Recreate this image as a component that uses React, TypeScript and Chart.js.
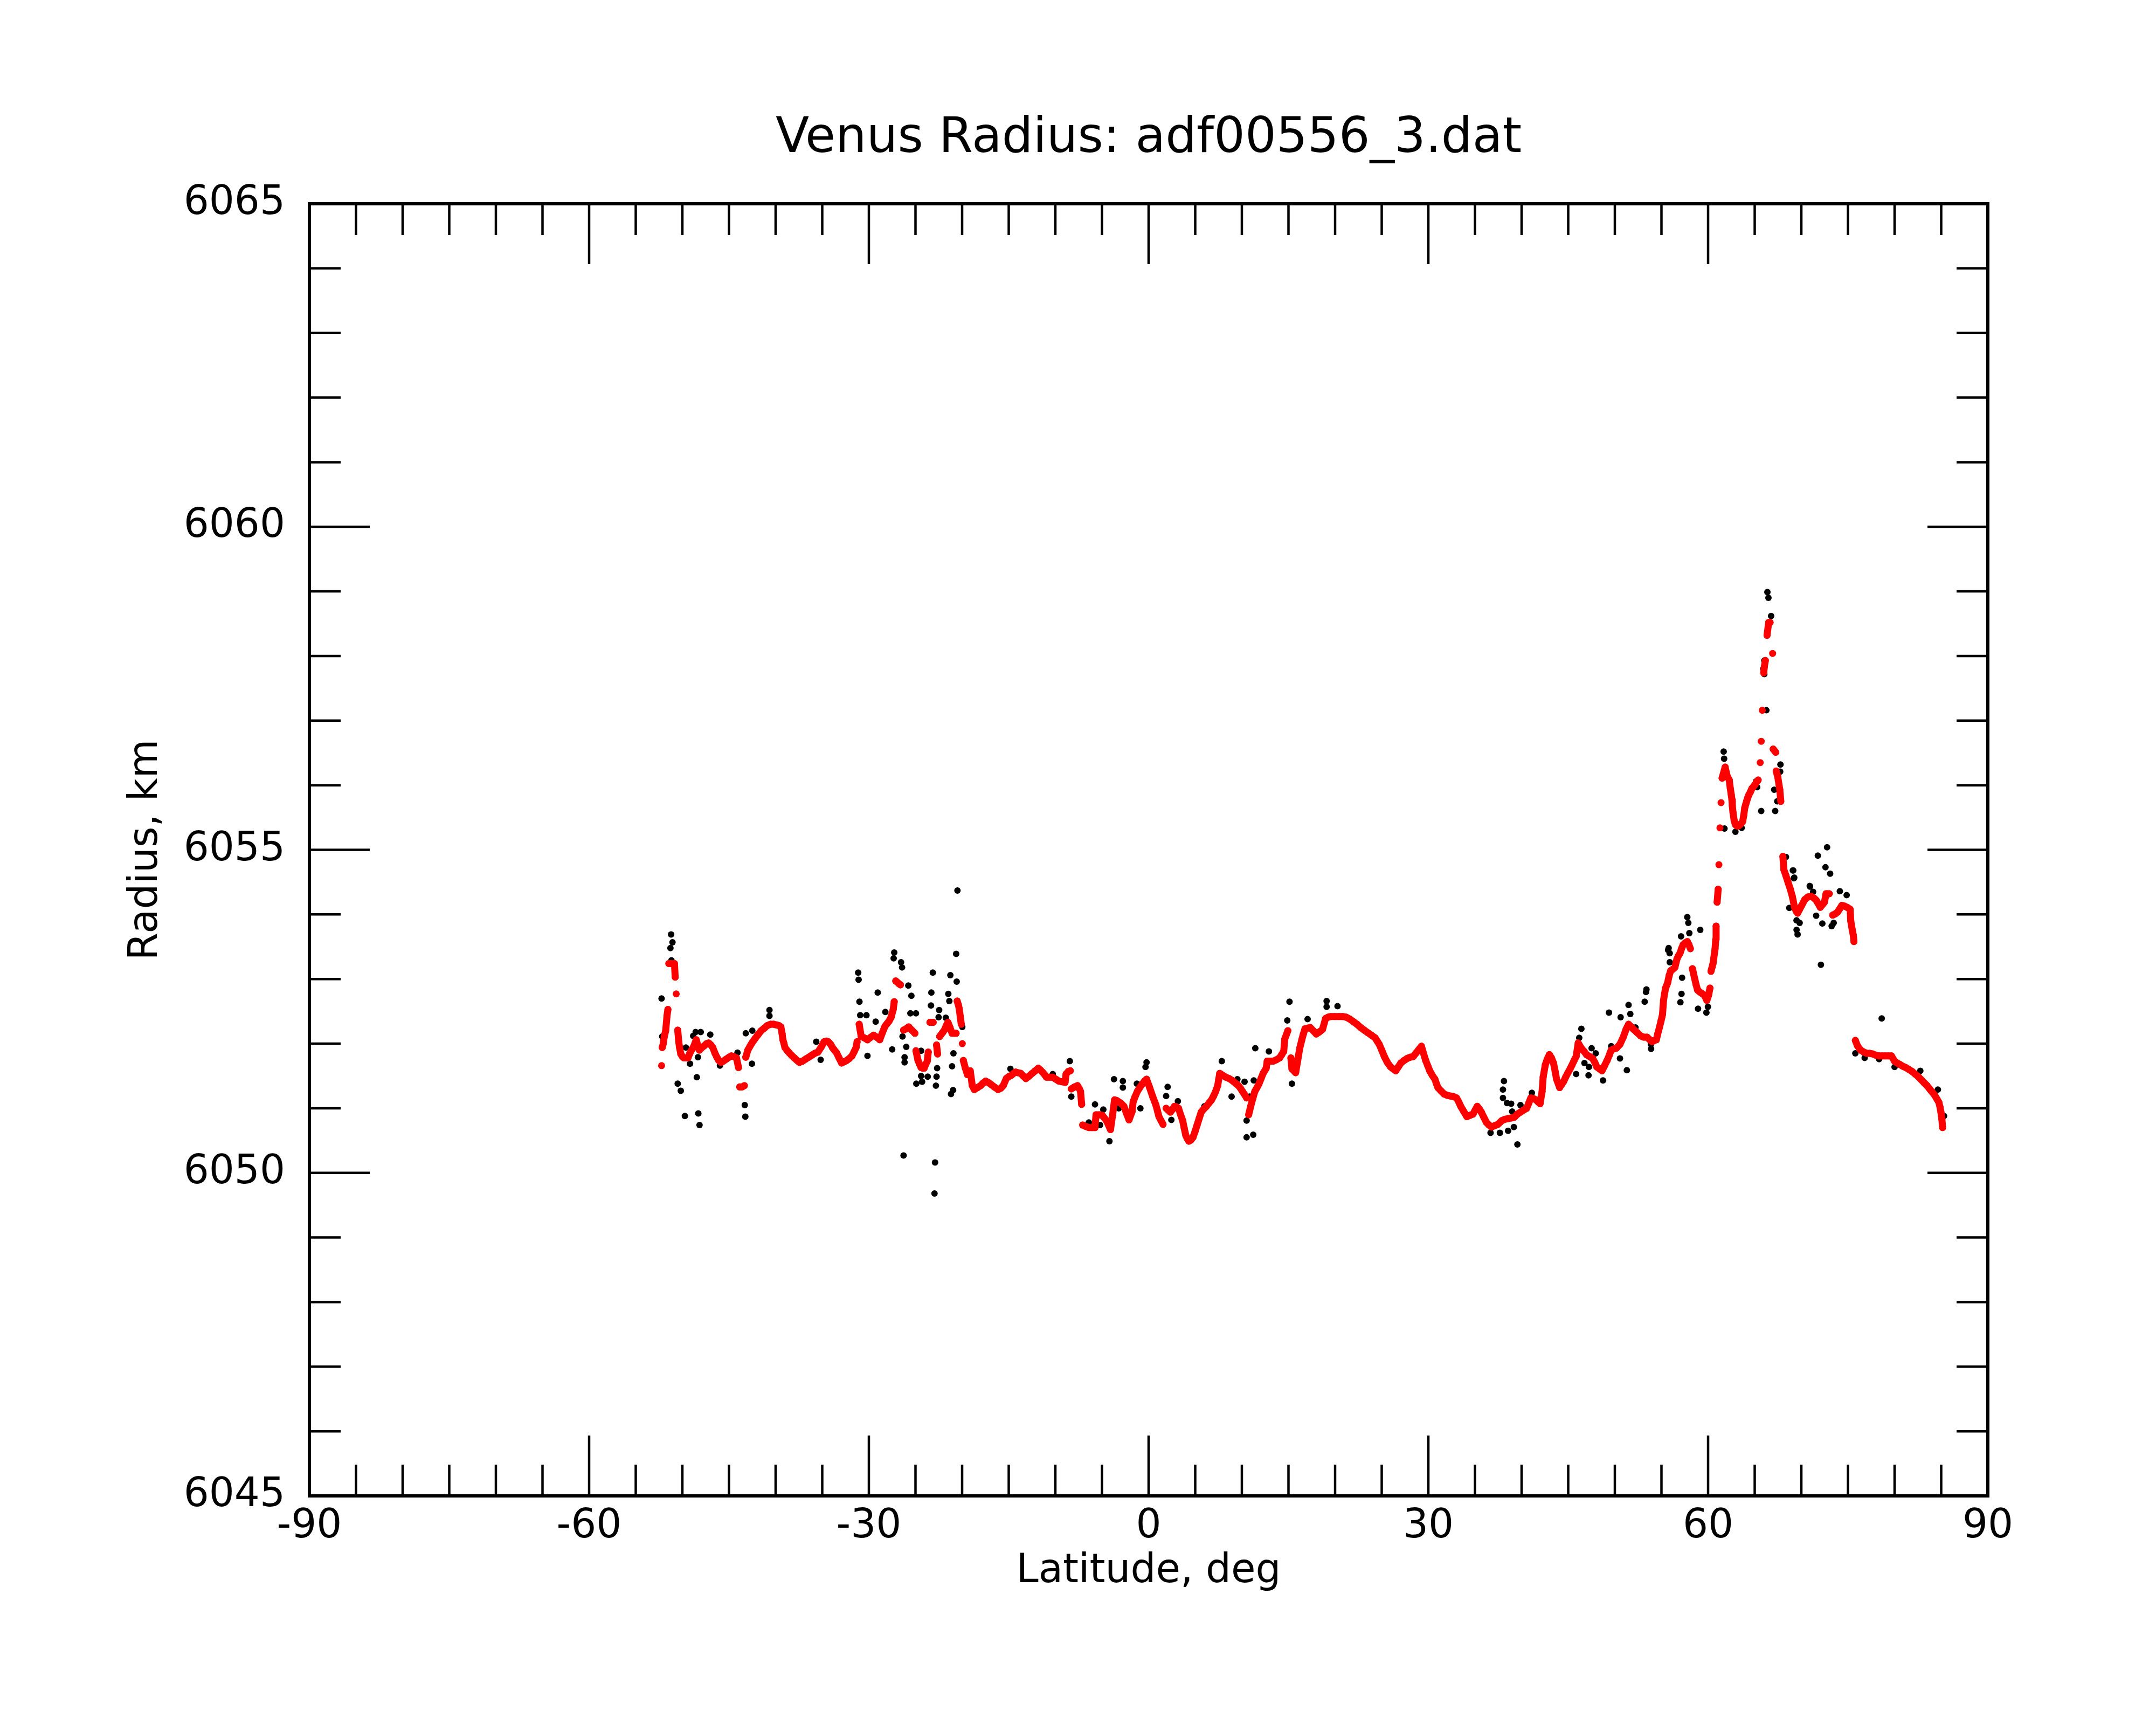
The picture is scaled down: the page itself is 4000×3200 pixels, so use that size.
import { useEffect, useRef } from "react"
import { Chart, registerables, type Plugin } from "chart.js"

Chart.register(...registerables)

const chartTitle = "Venus Radius: adf00556_3.dat"
const xTitle = "Latitude, deg"
const yTitle = "Radius, km"

const latRange = [-90, 90]
const radiusRange = [6045, 6065]

// smoothed profile (red): [latitude deg, radius km]
const smoothed: [number, number][] = [
  [-52.23, 6051.66], [-52.16, 6051.94], [-52.05, 6052.0], [-51.94, 6052.11], [-51.79, 6052.2],
  [-51.65, 6052.43], [-51.55, 6052.53], [-51.45, 6053.24], [-51.25, 6053.24], [-51.05, 6053.24],
  [-50.85, 6053.24], [-50.77, 6053.03], [-50.66, 6052.77], [-50.5, 6052.21], [-50.39, 6052.03],
  [-50.3, 6051.94], [-50.17, 6051.84], [-50.0, 6051.8], [-49.84, 6051.78], [-49.6, 6051.78],
  [-49.4, 6051.78], [-49.2, 6051.85], [-49.06, 6051.89], [-48.8, 6051.95], [-48.51, 6052.06],
  [-48.35, 6051.97], [-48.18, 6051.9], [-47.9, 6051.94], [-47.63, 6051.97], [-47.4, 6052.0],
  [-47.18, 6052.01], [-46.95, 6051.98], [-46.74, 6051.94], [-46.5, 6051.85], [-46.3, 6051.79],
  [-46.1, 6051.74], [-45.86, 6051.71], [-45.6, 6051.73], [-45.3, 6051.76], [-45.0, 6051.79],
  [-44.75, 6051.81], [-44.5, 6051.8], [-44.2, 6051.78], [-43.98, 6051.63], [-43.85, 6051.33],
  [-43.6, 6051.33], [-43.35, 6051.35], [-43.2, 6051.79], [-42.98, 6051.9], [-42.75, 6051.96],
  [-42.54, 6052.01], [-42.2, 6052.08], [-41.88, 6052.14], [-41.55, 6052.2], [-41.21, 6052.24],
  [-40.9, 6052.28], [-40.55, 6052.3], [-40.2, 6052.3], [-39.89, 6052.29], [-39.65, 6052.28],
  [-39.44, 6052.26], [-39.3, 6052.15], [-39.22, 6052.06], [-39.1, 6052.0], [-39.0, 6051.94],
  [-38.8, 6051.9], [-38.56, 6051.86], [-38.3, 6051.82], [-38.0, 6051.78], [-37.7, 6051.74],
  [-37.45, 6051.71], [-37.1, 6051.73], [-36.79, 6051.76], [-36.45, 6051.79], [-36.12, 6051.82],
  [-35.8, 6051.85], [-35.46, 6051.87], [-35.1, 6051.95], [-34.8, 6052.03], [-34.55, 6052.04],
  [-34.36, 6052.03], [-34.1, 6051.99], [-33.91, 6051.94], [-33.7, 6051.9], [-33.47, 6051.86],
  [-33.2, 6051.78], [-32.92, 6051.7], [-32.65, 6051.72], [-32.37, 6051.74], [-32.1, 6051.77],
  [-31.81, 6051.81], [-31.6, 6051.87], [-31.37, 6051.94], [-31.26, 6052.03], [-31.04, 6052.3],
  [-30.82, 6052.11], [-30.5, 6052.09], [-30.15, 6052.06], [-29.8, 6052.1], [-29.49, 6052.13],
  [-29.15, 6052.1], [-28.83, 6052.06], [-28.55, 6052.17], [-28.27, 6052.27], [-28.05, 6052.31],
  [-27.83, 6052.35], [-27.61, 6052.41], [-27.39, 6052.53], [-27.28, 6052.65], [-27.12, 6052.97],
  [-26.95, 6052.95], [-26.8, 6052.93], [-26.61, 6052.91], [-26.28, 6052.21], [-26.0, 6052.23],
  [-25.73, 6052.26], [-25.4, 6052.21], [-25.06, 6052.16], [-24.95, 6051.89], [-24.73, 6051.74],
  [-24.55, 6051.68], [-24.4, 6051.63], [-24.2, 6051.62], [-24.07, 6051.62], [-23.9, 6051.68],
  [-23.74, 6051.73], [-23.63, 6051.87], [-23.45, 6052.33], [-23.3, 6052.33], [-23.1, 6052.33],
  [-22.74, 6051.98], [-22.63, 6051.84], [-22.41, 6052.11], [-22.1, 6052.17], [-21.86, 6052.22],
  [-21.7, 6052.28], [-21.52, 6052.33], [-21.3, 6052.25], [-21.08, 6052.16], [-20.85, 6052.16],
  [-20.64, 6052.16], [-20.53, 6052.66], [-20.4, 6052.6], [-20.31, 6052.54], [-20.2, 6052.42],
  [-20.09, 6052.3], [-19.98, 6052.0], [-19.87, 6051.74], [-19.65, 6051.62], [-19.43, 6051.52],
  [-19.13, 6051.58], [-18.91, 6051.35], [-18.69, 6051.29], [-18.35, 6051.32], [-18.02, 6051.35],
  [-17.75, 6051.39], [-17.47, 6051.42], [-17.2, 6051.4], [-16.92, 6051.37], [-16.55, 6051.33],
  [-16.14, 6051.29], [-15.85, 6051.31], [-15.59, 6051.35], [-15.26, 6051.46], [-15.0, 6051.49],
  [-14.71, 6051.51], [-14.48, 6051.54], [-14.26, 6051.56], [-14.0, 6051.55], [-13.71, 6051.54],
  [-13.45, 6051.5], [-13.16, 6051.46], [-12.8, 6051.5], [-12.49, 6051.54], [-12.15, 6051.58],
  [-11.83, 6051.62], [-11.6, 6051.59], [-11.39, 6051.56], [-11.15, 6051.52], [-10.95, 6051.48],
  [-10.6, 6051.48], [-10.28, 6051.48], [-9.95, 6051.45], [-9.62, 6051.42], [-9.3, 6051.41],
  [-8.96, 6051.4], [-8.85, 6051.53], [-8.6, 6051.57], [-8.4, 6051.58], [-8.29, 6051.3],
  [-7.95, 6051.33], [-7.63, 6051.35], [-7.45, 6051.31], [-7.3, 6051.26], [-7.18, 6051.06],
  [-7.07, 6050.74], [-6.75, 6050.72], [-6.41, 6050.7], [-6.08, 6050.7], [-5.75, 6050.7],
  [-5.64, 6050.9], [-5.3, 6050.9], [-4.97, 6050.89], [-4.75, 6050.85], [-4.53, 6050.81],
  [-4.3, 6050.74], [-4.09, 6050.67], [-3.98, 6050.78], [-3.87, 6050.89], [-3.76, 6051.01],
  [-3.65, 6051.13], [-3.42, 6051.12], [-3.2, 6051.1], [-2.92, 6051.07], [-2.65, 6051.03],
  [-2.37, 6050.92], [-2.1, 6050.82], [-1.77, 6050.95], [-1.66, 6051.1], [-1.45, 6051.18],
  [-1.21, 6051.26], [-0.95, 6051.32], [-0.66, 6051.38], [-0.44, 6051.42], [-0.22, 6051.45],
  [0.11, 6051.32], [0.44, 6051.18], [0.78, 6051.05], [0.95, 6050.96], [1.11, 6050.87],
  [1.33, 6050.81], [1.55, 6050.75], [1.88, 6051.0], [2.1, 6050.97], [2.33, 6050.94],
  [2.55, 6050.98], [2.77, 6051.03], [3.0, 6051.02], [3.21, 6051.0], [3.43, 6050.9],
  [3.65, 6050.81], [3.82, 6050.69], [3.99, 6050.58], [4.15, 6050.53], [4.32, 6050.49],
  [4.55, 6050.51], [4.76, 6050.55], [4.98, 6050.64], [5.2, 6050.74], [5.42, 6050.84],
  [5.64, 6050.94], [5.92, 6050.99], [6.2, 6051.03], [6.47, 6051.08], [6.75, 6051.13],
  [6.97, 6051.19], [7.19, 6051.26], [7.41, 6051.35], [7.52, 6051.45], [7.63, 6051.54],
  [7.95, 6051.51], [8.3, 6051.48], [8.63, 6051.46], [8.96, 6051.43], [9.3, 6051.39],
  [9.63, 6051.35], [9.85, 6051.31], [10.07, 6051.26], [10.3, 6051.21], [10.51, 6051.16],
  [10.73, 6050.9], [10.95, 6051.03], [11.17, 6051.15], [11.39, 6051.26], [11.62, 6051.32],
  [11.84, 6051.38], [12.06, 6051.46], [12.28, 6051.54], [12.61, 6051.62], [12.72, 6051.73],
  [13.05, 6051.73], [13.38, 6051.73], [13.7, 6051.75], [14.05, 6051.78], [14.27, 6051.83],
  [14.49, 6051.88], [14.6, 6052.07], [14.93, 6052.2], [15.26, 6051.78], [15.37, 6051.61],
  [15.77, 6051.55], [15.99, 6051.74], [16.21, 6051.93], [16.43, 6052.06], [16.6, 6052.15],
  [16.77, 6052.23], [17.05, 6052.24], [17.32, 6052.25], [17.65, 6052.2], [17.98, 6052.15],
  [18.3, 6052.18], [18.65, 6052.22], [18.98, 6052.39], [19.25, 6052.41], [19.53, 6052.42],
  [19.95, 6052.42], [20.42, 6052.42], [20.8, 6052.42], [21.19, 6052.41], [21.58, 6052.38],
  [21.96, 6052.34], [22.35, 6052.3], [22.74, 6052.25], [23.12, 6052.21], [23.51, 6052.17],
  [23.9, 6052.13], [24.29, 6052.09], [24.51, 6052.04], [24.73, 6051.99], [25.0, 6051.9],
  [25.28, 6051.8], [25.6, 6051.71], [25.95, 6051.64], [26.22, 6051.61], [26.5, 6051.58],
  [26.78, 6051.64], [27.05, 6051.7], [27.4, 6051.74], [27.72, 6051.77], [28.05, 6051.79],
  [28.38, 6051.8], [28.65, 6051.85], [28.93, 6051.9], [29.1, 6051.93], [29.26, 6051.96],
  [29.48, 6051.85], [29.71, 6051.74], [29.93, 6051.66], [30.15, 6051.58], [30.42, 6051.51],
  [30.7, 6051.45], [30.87, 6051.38], [31.03, 6051.32], [31.35, 6051.27], [31.7, 6051.22],
  [32.03, 6051.2], [32.36, 6051.19], [32.7, 6051.18], [33.02, 6051.16], [33.25, 6051.1],
  [33.47, 6051.03], [33.8, 6050.95], [34.13, 6050.87], [34.46, 6050.89], [34.79, 6050.91],
  [35.02, 6050.97], [35.24, 6051.03], [35.46, 6050.99], [35.68, 6050.94], [35.95, 6050.86],
  [36.23, 6050.78], [36.5, 6050.74], [36.78, 6050.71], [37.1, 6050.73], [37.45, 6050.75],
  [37.67, 6050.78], [37.89, 6050.81], [38.22, 6050.83], [38.55, 6050.84], [38.9, 6050.85],
  [39.22, 6050.86], [39.55, 6050.91], [39.88, 6050.94], [40.2, 6050.97], [40.55, 6051.0],
  [40.77, 6051.08], [40.99, 6051.16], [41.27, 6051.15], [41.54, 6051.13], [41.76, 6051.1],
  [41.98, 6051.07], [42.2, 6051.26], [42.31, 6051.48], [42.54, 6051.67], [42.75, 6051.76],
  [42.98, 6051.83], [43.2, 6051.78], [43.42, 6051.7], [43.6, 6051.57], [43.75, 6051.45],
  [44.08, 6051.32], [44.3, 6051.37], [44.53, 6051.42], [44.75, 6051.49], [44.97, 6051.55],
  [45.2, 6051.61], [45.41, 6051.67], [45.63, 6051.74], [45.85, 6051.8], [46.07, 6052.01],
  [46.4, 6051.93], [46.7, 6051.88], [46.96, 6051.83], [47.3, 6051.8], [47.62, 6051.77],
  [47.85, 6051.71], [48.06, 6051.64], [48.35, 6051.61], [48.62, 6051.58], [48.9, 6051.66],
  [49.17, 6051.74], [49.4, 6051.82], [49.61, 6051.9], [49.9, 6051.92], [50.17, 6051.93],
  [50.55, 6051.99], [50.9, 6052.1], [51.2, 6052.22], [51.47, 6052.3], [51.75, 6052.26],
  [52.02, 6052.22], [52.4, 6052.17], [52.76, 6052.12], [53.1, 6052.1], [53.45, 6052.1],
  [53.75, 6052.06], [54.0, 6052.03], [54.24, 6052.05], [54.45, 6052.06], [54.6, 6052.15],
  [54.78, 6052.25], [54.95, 6052.35], [55.11, 6052.45], [55.22, 6052.67], [55.33, 6052.77],
  [55.44, 6052.86], [55.66, 6052.94], [55.82, 6053.05], [55.99, 6053.13], [56.2, 6053.15],
  [56.44, 6053.18], [56.66, 6053.31], [56.82, 6053.36], [56.99, 6053.4], [57.15, 6053.47],
  [57.32, 6053.53], [57.55, 6053.56], [57.77, 6053.58], [57.95, 6053.53], [58.1, 6053.47],
  [58.32, 6053.16], [58.54, 6053.02], [58.7, 6052.92], [58.87, 6052.83], [59.1, 6052.8],
  [59.31, 6052.78], [59.6, 6052.75], [59.87, 6052.67], [60.05, 6052.75], [60.2, 6052.86],
  [60.31, 6053.12], [60.42, 6053.18], [60.53, 6053.24], [60.75, 6053.47], [60.82, 6053.61],
  [60.86, 6053.82], [60.97, 6054.19], [61.08, 6054.39], [61.16, 6054.77], [61.27, 6055.34],
  [61.39, 6055.73], [61.5, 6056.11], [61.83, 6056.28], [62.05, 6056.14], [62.27, 6056.08],
  [62.38, 6055.95], [62.49, 6055.85], [62.56, 6055.77], [62.6, 6055.68], [62.67, 6055.58],
  [62.8, 6055.45], [62.93, 6055.39], [63.1, 6055.37], [63.27, 6055.37], [63.5, 6055.4],
  [63.71, 6055.44], [63.82, 6055.53], [63.93, 6055.65], [64.05, 6055.71], [64.15, 6055.76],
  [64.26, 6055.81], [64.37, 6055.85], [64.55, 6055.9], [64.7, 6055.95], [64.87, 6055.98],
  [65.04, 6056.01], [65.2, 6056.05], [65.37, 6056.08], [65.59, 6056.35], [65.7, 6056.68],
  [65.81, 6057.16], [65.96, 6057.74], [66.03, 6057.83], [66.14, 6057.93], [66.32, 6058.32],
  [66.5, 6058.52], [66.65, 6058.52], [66.92, 6058.04], [66.98, 6056.56], [67.25, 6056.51],
  [67.3, 6056.22], [67.47, 6056.13], [67.69, 6055.93], [67.8, 6055.75], [68.02, 6054.9],
  [68.13, 6054.69], [68.35, 6054.6], [68.57, 6054.5], [68.82, 6054.39], [69.05, 6054.27],
  [69.27, 6054.11], [69.45, 6054.05], [69.6, 6054.02], [69.82, 6054.08], [70.04, 6054.14],
  [70.37, 6054.23], [70.7, 6054.27], [71.04, 6054.28], [71.3, 6054.26], [71.59, 6054.22],
  [71.8, 6054.17], [72.03, 6054.11], [72.25, 6054.15], [72.48, 6054.19], [72.65, 6054.32],
  [72.81, 6054.32], [73.0, 6054.32], [73.36, 6053.99], [73.65, 6054.01], [73.91, 6054.04],
  [74.13, 6054.09], [74.35, 6054.14], [74.6, 6054.13], [74.91, 6054.11], [75.24, 6054.08],
  [75.3, 6053.9], [75.46, 6053.76], [75.57, 6053.68], [75.64, 6053.58], [75.79, 6052.05],
  [76.01, 6051.97], [76.35, 6051.9], [76.7, 6051.87], [77.01, 6051.85], [77.35, 6051.85],
  [77.67, 6051.84], [78.0, 6051.82], [78.34, 6051.81], [78.67, 6051.81], [79.0, 6051.81],
  [79.33, 6051.81], [79.66, 6051.81], [79.99, 6051.73], [80.27, 6051.7], [80.55, 6051.68],
  [80.88, 6051.65], [81.21, 6051.63], [81.54, 6051.6], [81.87, 6051.57], [82.2, 6051.53],
  [82.54, 6051.49], [82.87, 6051.44], [83.2, 6051.39], [83.48, 6051.35], [83.75, 6051.3],
  [84.03, 6051.25], [84.31, 6051.2], [84.55, 6051.14], [84.75, 6051.09], [84.87, 6051.02],
  [84.97, 6050.94], [85.08, 6050.82], [85.15, 6050.7],
]

// raw measurements (black) that stand off the smoothed profile
const raw: [number, number][] = [
  [-52.23, 6052.7], [-52.16, 6052.11], [-51.28, 6053.48], [-51.21, 6053.69], [-51.17, 6053.29],
  [-51.06, 6053.57], [-50.5, 6051.38], [-50.17, 6051.27], [-49.73, 6050.88], [-49.62, 6051.94],
  [-49.18, 6051.69], [-48.84, 6052.12], [-48.58, 6052.18], [-48.45, 6051.48], [-48.33, 6051.79],
  [-48.29, 6050.92], [-48.16, 6050.74], [-48.03, 6052.18], [-47.01, 6052.14], [-45.97, 6051.66],
  [-44.09, 6051.86], [-43.31, 6051.05], [-43.25, 6050.87], [-43.2, 6052.16], [-42.54, 6051.69],
  [-42.5, 6052.2], [-40.66, 6052.52], [-40.66, 6052.43], [-35.64, 6052.03], [-35.17, 6051.75],
  [-31.15, 6053.1], [-31.1, 6052.99], [-31.01, 6052.65], [-30.93, 6052.44], [-30.26, 6052.44],
  [-30.15, 6051.81], [-29.27, 6052.34], [-29.05, 6052.79], [-28.23, 6052.49], [-27.5, 6051.91],
  [-27.34, 6053.32], [-27.28, 6053.41], [-26.55, 6053.26], [-26.44, 6053.18], [-26.39, 6052.11],
  [-26.28, 6050.27], [-26.17, 6051.79], [-26.17, 6051.71], [-25.99, 6051.95], [-25.77, 6052.9],
  [-25.55, 6052.47], [-25.44, 6052.74], [-24.95, 6052.47], [-24.91, 6051.38], [-24.4, 6051.5],
  [-24.4, 6051.89], [-24.29, 6051.41], [-23.69, 6051.49], [-23.34, 6052.59], [-23.3, 6052.79],
  [-23.14, 6053.1], [-22.96, 6049.68], [-22.9, 6050.16], [-22.81, 6051.35], [-22.74, 6051.49],
  [-22.68, 6051.62], [-22.52, 6052.41], [-22.46, 6052.52], [-21.75, 6052.4], [-21.48, 6052.77],
  [-21.37, 6052.66], [-21.26, 6053.06], [-21.19, 6051.22], [-21.08, 6051.65], [-20.97, 6051.28],
  [-20.93, 6051.85], [-20.5, 6054.37], [-20.64, 6053.39], [-20.58, 6052.96], [-19.98, 6052.26],
  [-14.82, 6051.61], [-10.28, 6051.53], [-8.45, 6051.73], [-8.29, 6051.18], [-6.41, 6050.78],
  [-5.75, 6051.06], [-5.2, 6050.74], [-4.86, 6050.98], [-4.2, 6050.49], [-3.71, 6051.45],
  [-3.2, 6051.0], [-2.76, 6051.42], [-2.76, 6051.32], [-1.26, 6051.38], [-0.88, 6051.0],
  [-0.33, 6051.64], [-0.22, 6051.71], [1.88, 6051.19], [2.04, 6051.33], [2.44, 6050.82],
  [3.14, 6051.11], [5.98, 6051.03], [7.85, 6051.73], [8.9, 6051.18], [9.52, 6051.45],
  [10.29, 6051.41], [10.51, 6050.81], [10.51, 6050.55], [10.84, 6051.18], [11.22, 6050.59],
  [11.28, 6051.43], [11.44, 6051.93], [12.9, 6051.88], [14.87, 6052.36], [15.11, 6052.65],
  [15.37, 6051.38], [17.05, 6052.38], [19.09, 6052.66], [19.09, 6052.57], [20.26, 6052.58],
  [36.67, 6050.62], [37.67, 6050.62], [38.0, 6051.29], [38.0, 6051.16], [38.11, 6051.42],
  [38.44, 6051.08], [38.55, 6050.65], [38.88, 6051.07], [38.99, 6050.95], [39.17, 6050.71],
  [39.55, 6050.44], [39.88, 6051.05], [41.1, 6051.24], [45.85, 6051.53], [46.18, 6052.09],
  [46.41, 6052.23], [46.74, 6051.7], [47.18, 6051.51], [47.22, 6051.64], [47.51, 6051.93],
  [47.95, 6051.85], [48.73, 6051.43], [49.37, 6052.48], [49.61, 6051.96], [50.55, 6051.77],
  [50.62, 6052.41], [51.29, 6051.59], [51.47, 6052.6], [51.66, 6052.46], [52.21, 6052.25],
  [53.2, 6052.65], [53.34, 6052.8], [53.39, 6052.84], [53.87, 6051.99], [53.89, 6051.92],
  [55.71, 6053.45], [55.77, 6053.48], [55.88, 6053.4], [55.89, 6053.26], [57.03, 6052.64],
  [57.1, 6053.66], [57.15, 6052.77], [57.21, 6053.02], [57.77, 6053.96], [57.88, 6053.87],
  [57.99, 6053.71], [58.92, 6052.54], [59.16, 6053.76], [59.82, 6052.48], [59.98, 6052.57],
  [61.67, 6056.52], [61.72, 6056.41], [61.76, 6055.33], [62.93, 6055.28], [63.6, 6055.34],
  [65.15, 6056.06], [65.26, 6055.97], [65.7, 6055.6], [65.92, 6057.8], [66.03, 6057.93],
  [66.03, 6057.72], [66.25, 6057.16], [66.36, 6058.99], [66.47, 6058.9], [66.76, 6058.62],
  [67.09, 6055.93], [67.2, 6055.6], [67.42, 6055.75], [67.73, 6056.21], [67.76, 6056.32],
  [68.35, 6054.89], [68.71, 6054.1], [69.09, 6054.68], [69.13, 6054.68], [69.2, 6054.56],
  [69.24, 6054.57], [69.49, 6053.91], [69.49, 6053.76], [69.6, 6053.69], [69.82, 6053.87],
  [70.9, 6054.44], [70.93, 6054.43], [71.26, 6054.35], [71.59, 6053.98], [71.77, 6054.91],
  [72.1, 6053.22], [72.25, 6053.86], [72.59, 6054.73], [72.76, 6055.04], [73.09, 6054.63],
  [73.25, 6053.82], [73.47, 6053.87], [74.13, 6054.36], [74.86, 6054.3], [75.79, 6051.85],
  [76.79, 6051.78], [78.34, 6051.76], [78.62, 6052.39], [80.0, 6051.64], [82.76, 6051.58],
  [84.64, 6051.29], [85.3, 6050.88],
]

const latMajor = 30
const latMinor = 5
const radiusMajor = 5
const radiusMinor = 1

const FONT = '"DejaVu Sans", sans-serif'

// frame, inward ticks on all four sides and the titles
const framePlugin: Plugin = {
  id: "frame",
  afterDraw(chart) {
    const { ctx, chartArea: a } = chart
    const x = chart.scales.x
    const y = chart.scales.y
    ctx.save()
    ctx.strokeStyle = "#000"
    ctx.lineWidth = 4.5
    ctx.beginPath()
    for (let v = latRange[0]; v <= latRange[1]; v += latMinor) {
      const px = x.getPixelForValue(v)
      const len = v % latMajor === 0 ? 112 : 58
      ctx.moveTo(px, a.bottom)
      ctx.lineTo(px, a.bottom - len)
      ctx.moveTo(px, a.top)
      ctx.lineTo(px, a.top + len)
    }
    for (let v = radiusRange[0]; v <= radiusRange[1]; v += radiusMinor) {
      const py = y.getPixelForValue(v)
      const len = (v - radiusRange[0]) % radiusMajor === 0 ? 112 : 58
      ctx.moveTo(a.left, py)
      ctx.lineTo(a.left + len, py)
      ctx.moveTo(a.right, py)
      ctx.lineTo(a.right - len, py)
    }
    ctx.stroke()
    ctx.lineWidth = 6
    ctx.strokeRect(a.left, a.top, a.right - a.left, a.bottom - a.top)

    ctx.fillStyle = "#000"
    ctx.textAlign = "center"
    ctx.textBaseline = "alphabetic"
    ctx.font = `91px ${FONT}`
    ctx.fillText(chartTitle, (a.left + a.right) / 2, a.top - 96)
    ctx.font = `74px ${FONT}`
    ctx.fillText(xTitle, (a.left + a.right) / 2, a.bottom + 160)
    ctx.translate(a.left - 283, (a.top + a.bottom) / 2)
    ctx.rotate(-Math.PI / 2)
    ctx.fillText(yTitle, 0, 0)
    ctx.restore()
  },
}

function RadiusChart() {
  const canvasRef = useRef<HTMLCanvasElement | null>(null)
  const chartRef = useRef<Chart | null>(null)

  useEffect(() => {
    if (!canvasRef.current) return
    if (chartRef.current) chartRef.current.destroy()

    chartRef.current = new Chart(canvasRef.current, {
      type: "scatter",
      data: {
        datasets: [
          {
            label: "smoothed",
            data: smoothed.map(([lat, r]) => ({ x: lat, y: r })),
            order: 0,
            showLine: true,
            borderColor: "#ff0000",
            borderWidth: 13,
            borderCapStyle: "round",
            borderJoinStyle: "round",
            // only join neighbours that sit close together, steep jumps stay as dots
            segment: {
              borderColor: (c: any) =>
                Math.hypot(c.p1.x - c.p0.x, c.p1.y - c.p0.y) < 28 ? "#ff0000" : "rgba(0,0,0,0)",
            },
            pointRadius: 6.5,
            pointBorderWidth: 0,
            pointBackgroundColor: "#ff0000",
          },
          {
            label: "raw",
            data: raw.map(([lat, r]) => ({ x: lat, y: r })),
            order: 1,
            showLine: false,
            pointRadius: 6,
            pointBorderWidth: 0,
            pointBackgroundColor: "#000000",
          },
        ],
      },
      options: {
        animation: false,
        responsive: false,
        devicePixelRatio: 1,
        layout: { padding: { left: 0, right: 312, top: 378, bottom: 0 } },
        plugins: {
          legend: { display: false },
          tooltip: { enabled: false },
          title: { display: false },
        },
        scales: {
          x: {
            type: "linear",
            position: "bottom",
            min: latRange[0],
            max: latRange[1],
            afterFit: (s: any) => {
              s.height = 425
            },
            grid: { display: false, drawTicks: false },
            border: { display: false },
            ticks: {
              stepSize: latMajor,
              autoSkip: false,
              maxRotation: 0,
              padding: 13,
              color: "#000",
              font: { family: FONT, size: 74 },
              callback: (v: any) => String(v),
            },
          },
          y: {
            type: "linear",
            min: radiusRange[0],
            max: radiusRange[1],
            afterFit: (s: any) => {
              s.width = 574
            },
            grid: { display: false, drawTicks: false },
            border: { display: false },
            ticks: {
              stepSize: radiusMajor,
              autoSkip: false,
              padding: 45,
              color: "#000",
              font: { family: FONT, size: 74 },
              callback: (v: any) => String(v),
            },
          },
        },
      },
      plugins: [framePlugin],
    })

    return () => {
      if (chartRef.current) {
        chartRef.current.destroy()
        chartRef.current = null
      }
    }
  }, [])

  return <canvas ref={canvasRef} width={4000} height={3200} style={{ display: "block" }} />
}

export default function App() {
  return (
    <div style={{ position: "fixed", left: 0, top: 0, width: 4000, height: 3200, background: "#fff" }}>
      <RadiusChart />
    </div>
  )
}
